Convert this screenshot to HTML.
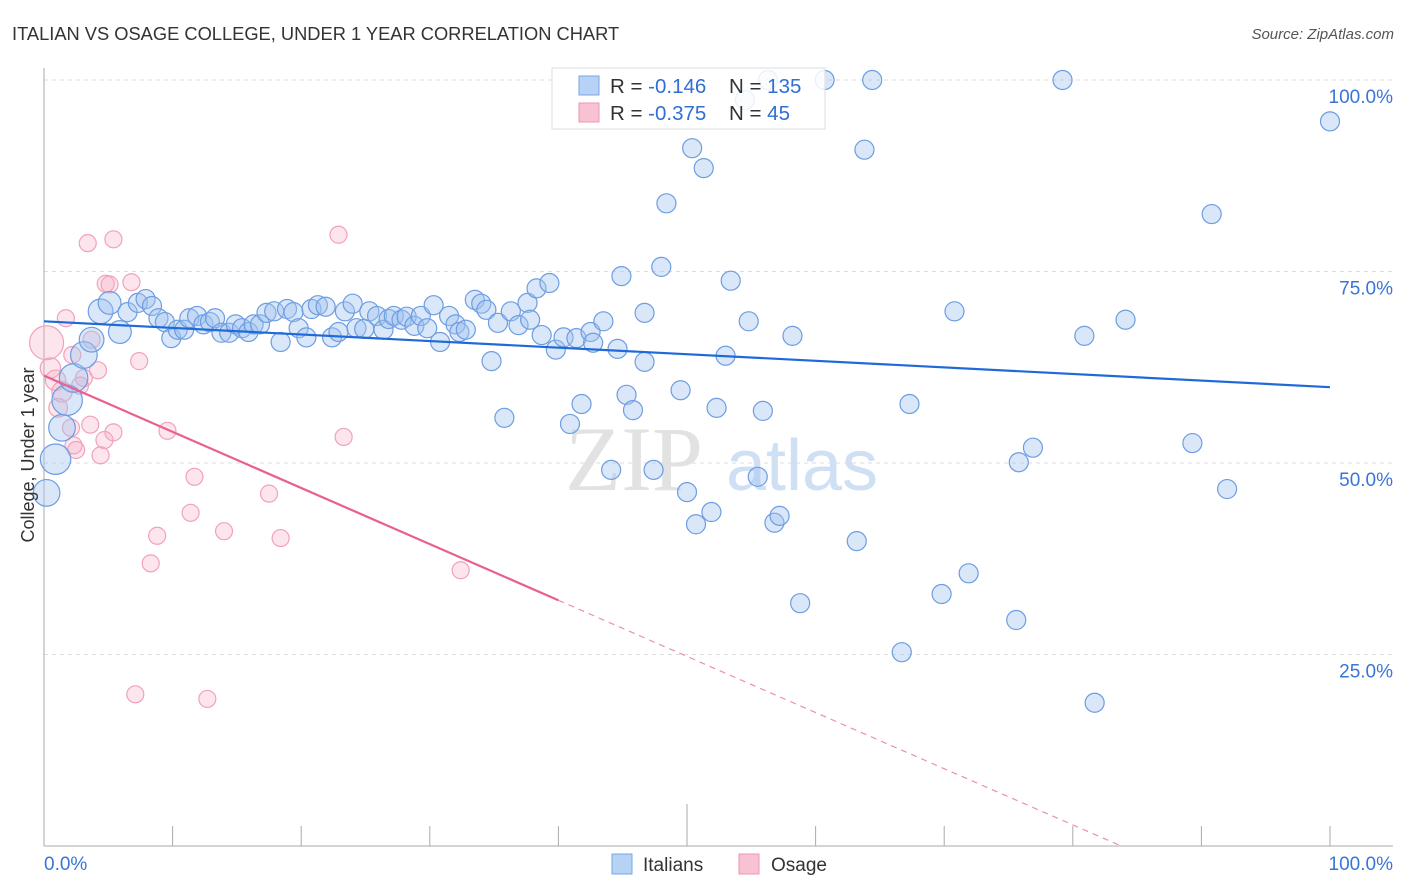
<!DOCTYPE html>
<html><head><meta charset="utf-8"><style>
body{margin:0;background:#fff;font-family:"Liberation Sans",sans-serif}
svg{display:block}
</style></head><body>
<svg id="chart" width="1406" height="892" viewBox="0 0 1406 892">
<text x="12" y="40" font-size="18.3" fill="#333">ITALIAN VS OSAGE COLLEGE, UNDER 1 YEAR CORRELATION CHART</text>
<text x="1394" y="39" font-size="15" fill="#555" font-style="italic" text-anchor="end">Source: ZipAtlas.com</text>
<g>
<text x="634" y="490" font-size="92" fill="#e2e2e2" font-family="Liberation Serif,serif" text-anchor="middle">ZIP</text>
<text x="802" y="490" font-size="72" fill="#cfe0f5" text-anchor="middle">atlas</text>
</g>
<g id="grid"></g>
<g id="axes"></g>
<g id="marks"></g>
<text transform="translate(34,455) rotate(-90)" font-size="18" fill="#333" text-anchor="middle">College, Under 1 year</text>
<g>
<rect x="552" y="68" width="273" height="61" fill="#fff" fill-opacity="0.85" stroke="#ddd"/>
<rect x="579" y="76" width="20" height="19" fill="#b6d2f5" stroke="#7aa6e4"/>
<rect x="579" y="103" width="20" height="19" fill="#f9c2d2" stroke="#f095b2"/>
<text x="610" y="93" font-size="20.5" fill="#333">R = <tspan fill="#2f6fd6">-0.146</tspan></text>
<text x="729" y="93" font-size="20.5" fill="#333">N = <tspan fill="#2f6fd6">135</tspan></text>
<text x="610" y="120" font-size="20.5" fill="#333">R = <tspan fill="#2f6fd6">-0.375</tspan></text>
<text x="729" y="120" font-size="20.5" fill="#333">N = <tspan fill="#2f6fd6"> 45</tspan></text>
</g>
<g>
<rect x="612" y="854" width="20" height="20" fill="#b6d2f5" stroke="#7aa6e4"/>
<text x="643" y="871" font-size="19" fill="#333">Italians</text>
<rect x="739" y="854" width="20" height="20" fill="#f9c2d2" stroke="#f095b2"/>
<text x="771" y="871" font-size="19" fill="#333">Osage</text>
</g>
</svg>
<script>
const yTicks=[25,50,75,100];
const yTickLabels=["25.0%","50.0%","75.0%","100.0%"];
const xTicks=[0,10,20,30,40,50,60,70,80,90,100];
const italiansX=[0.2,0.9,1.4,1.8,2.3,3.1,3.7,4.4,5.1,5.9,6.5,7.3,7.9,8.4,8.9,9.4,9.9,10.4,10.9,11.3,11.9,12.4,12.9,13.3,13.8,14.4,14.9,15.4,15.9,16.3,16.8,17.3,17.9,18.4,18.9,19.4,19.8,20.4,20.8,21.3,21.9,22.4,22.9,23.4,24.0,24.3,24.9,25.3,25.9,26.4,26.8,27.2,27.8,28.2,28.8,29.3,29.8,30.3,30.8,31.5,32.0,32.3,32.8,33.5,34.0,34.4,34.8,35.3,35.8,36.3,36.9,37.6,37.8,38.3,38.7,39.3,39.8,40.4,40.9,41.4,41.8,42.5,42.7,43.5,44.1,44.6,44.9,45.3,45.8,46.7,46.7,47.4,48.0,48.4,49.5,50.0,50.4,50.7,51.3,51.9,52.3,53.0,53.4,54.5,54.8,55.5,55.9,56.3,56.8,57.2,58.2,58.8,60.7,63.2,63.8,64.4,66.7,67.3,69.8,70.8,71.9,75.6,75.8,76.9,79.2,80.9,81.7,84.1,89.3,90.8,92.0,100];
const italiansY=[46.1,50.5,54.6,58.2,61.1,64.1,66.1,69.8,70.9,67.1,69.7,70.9,71.4,70.5,68.9,68.4,66.3,67.4,67.4,68.9,69.2,68.1,68.4,68.9,67.0,67.0,68.1,67.6,67.1,68.1,68.1,69.6,69.8,65.8,70.1,69.7,67.6,66.4,70.1,70.6,70.4,66.4,67.1,69.8,70.8,67.6,67.5,69.8,69.2,67.4,68.8,69.2,68.7,69.1,67.9,69.2,67.6,70.6,65.8,69.2,68.1,67.1,67.4,71.3,70.8,70.0,63.3,68.3,55.9,69.8,68.0,70.9,68.7,72.8,66.7,73.5,64.8,66.4,55.1,66.3,57.7,67.1,65.7,68.5,49.1,64.9,74.4,58.9,56.9,69.6,63.2,49.1,75.6,83.9,59.5,46.2,91.1,42.0,88.5,43.6,57.2,64.0,73.8,97.4,68.5,48.2,56.8,100,42.2,43.1,66.6,31.7,100,39.8,90.9,100,25.3,57.7,32.9,69.8,35.6,29.5,50.1,52.0,100,66.6,18.7,68.7,52.6,82.5,46.6,94.6];
const italiansSize=[1.4,1.6,1.4,1.6,1.5,1.4,1.3,1.3,1.2,1.2];
const osageX=[0.2,0.5,0.9,1.1,1.4,1.7,2.1,2.2,2.3,2.5,2.8,3.1,3.4,3.6,3.7,4.2,4.4,4.7,4.8,5.1,5.4,5.4,6.8,7.1,7.4,8.3,8.8,9.6,11.4,11.7,12.7,14.0,17.5,18.4,22.9,23.3,32.4];
const osageY=[65.7,62.4,60.8,57.2,59.3,68.9,54.6,64.1,52.3,51.7,60.1,61.1,78.7,55.0,66.1,62.1,51.0,53.0,73.4,73.3,79.2,54.0,73.6,19.8,63.3,36.9,40.5,54.2,43.5,48.2,19.2,41.1,46.0,40.2,79.8,53.4,36.0];
const osageSize=[2.0,1.2,1.2,1.1,1.2];
const italiansTrend=[68.5,59.9];
const osageTrend=[61.4,-0.733];
const osageSolidEnd=40;

const X0=44,X1=1330,Y0=846,Y1=80;
const xs=v=>X0+(X1-X0)*v/100;
const ys=v=>Y0-(Y0-Y1)*v/100;
const NS="http://www.w3.org/2000/svg";
function mk(tag,attrs,parent){const e=document.createElementNS(NS,tag);for(const k in attrs)e.setAttribute(k,attrs[k]);parent.appendChild(e);return e;}
const grid=document.getElementById('grid'),axes=document.getElementById('axes'),marks=document.getElementById('marks');
yTicks.forEach((t,i)=>{
  const l=mk('line',{x1:X0,x2:1393,y1:ys(t),y2:ys(t),stroke:'#ddd','stroke-dasharray':'4,4'},grid);
  
  
  const tx=mk('text',{x:1393,y:ys(t)+23,'font-size':19,fill:'#3a75d6','text-anchor':'end'},axes);
  tx.textContent=yTickLabels[i];
  
  
});
const yl=mk('line',{x1:X0,x2:X0,y1:68,y2:Y0,stroke:'#aaa'},axes);


const xl=mk('line',{x1:X0,x2:1393,y1:Y0,y2:Y0,stroke:'#aaa'},axes);


xTicks.forEach(t=>{
  const tk=mk('line',{x1:xs(t),x2:xs(t),y1:t===50?804:826,y2:Y0,stroke:'#aaa'},axes);
  
  
});
const xa=mk('text',{x:X0,y:870,'font-size':19,fill:'#3a75d6'},axes);xa.textContent='0.0%';


const xb=mk('text',{x:1393,y:870,'font-size':19,fill:'#3a75d6','text-anchor':'end'},axes);xb.textContent='100.0%';



osageX.forEach((v,i)=>{
  const c=mk('circle',{cx:xs(v),cy:ys(osageY[i]),r:8.5*(osageSize[i]||1),fill:'rgba(246,168,192,0.3)',stroke:'#f2a2bb','stroke-width':1.2},marks);
  
  
});
italiansX.forEach((v,i)=>{
  const c=mk('circle',{cx:xs(v),cy:ys(italiansY[i]),r:9.5*(italiansSize[i]||1),fill:'rgba(160,196,240,0.4)',stroke:'#6d9de2','stroke-width':1.2},marks);
  
  
});
const bt=mk('line',{x1:xs(0),y1:ys(italiansTrend[0]),x2:xs(100),y2:ys(italiansTrend[1]),stroke:'#1f6ad8','stroke-width':2.2},marks);


const pEnd=-osageTrend[0]/osageTrend[1];
const pt=mk('line',{x1:xs(0),y1:ys(osageTrend[0]),x2:xs(osageSolidEnd),y2:ys(osageTrend[0]+osageTrend[1]*osageSolidEnd),stroke:'#e8608f','stroke-width':2.2},marks);


const pd=mk('line',{x1:xs(osageSolidEnd),y1:ys(osageTrend[0]+osageTrend[1]*osageSolidEnd),x2:xs(pEnd),y2:ys(0),stroke:'#eb8fae','stroke-width':1.2,'stroke-dasharray':'6,5'},marks);


</script>
</body></html>
